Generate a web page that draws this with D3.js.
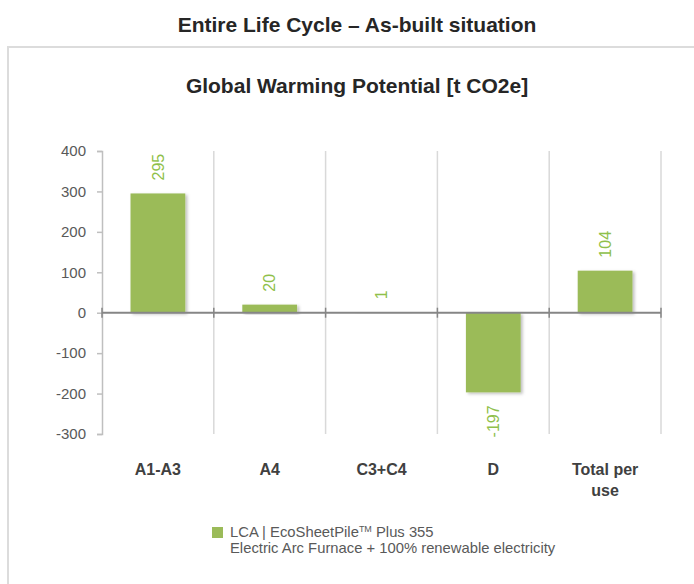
<!DOCTYPE html>
<html>
<head>
<meta charset="utf-8">
<script src="https://cdn.jsdelivr.net/npm/d3@7"></script>
<style>
  body { margin: 0; background: #fff; }
  svg { display: block; font-family: "Liberation Sans", Arial, sans-serif; }
</style>
</head>
<body>
<div class="barchart"></div>
<script>
// data
var categories = ["A1-A3", "A4", "C3+C4", "D", "Total per use"];
var values = [295, 20, 1, -197, 104];
var yTicks = [-300, -200, -100, 0, 100, 200, 300, 400];
var mainTitle = "Entire Life Cycle \u2013 As-built situation";
var chartTitle = "Global Warming Potential [t CO2e]";
var legendLine1 = "LCA | EcoSheetPile";
var legendLine1b = " Plus 355";
var legendLine2 = "Electric Arc Furnace + 100% renewable electricity";

var W = 694, H = 584;
var green = "#9bbb59";
var labelGreen = "#8fc04a";

var svg = d3.select(".barchart")
            .append("svg")
            .attr("width", W)
            .attr("height", H);

// soft shadow for bars
var defs = svg.append("defs");
defs.append("filter")
    .attr("id", "shadow")
    .attr("x", "-20%").attr("y", "-20%")
    .attr("width", "140%").attr("height", "140%")
    .append("feDropShadow")
    .attr("dx", 2).attr("dy", 1.5)
    .attr("stdDeviation", 1.5)
    .attr("flood-color", "#000")
    .attr("flood-opacity", 0.25);

svg.append("text")
   .attr("x", 357).attr("y", 32)
   .attr("text-anchor", "middle")
   .attr("font-size", 21).attr("font-weight", "bold")
   .attr("fill", "#262626")
   .text(mainTitle);

// chart box
svg.append("rect")
   .attr("x", 8).attr("y", 47)
   .attr("width", 720).attr("height", 600)
   .attr("fill", "#fff")
   .attr("stroke", "#dcdcdc")
   .attr("stroke-width", 2);

svg.append("text")
   .attr("x", 357).attr("y", 93)
   .attr("text-anchor", "middle")
   .attr("font-size", 21).attr("font-weight", "bold")
   .attr("fill", "#262626")
   .text(chartTitle);

var xScale = d3.scaleBand()
               .domain(categories)
               .range([102, 661])
               .paddingInner(0).paddingOuter(0);

var yScale = d3.scaleLinear()
               .domain([-300, 400])
               .range([434, 151]);

// vertical gridlines at category boundaries
var bounds = categories.map(function(c) { return xScale(c) + xScale.bandwidth(); });
svg.selectAll(".vgrid")
   .data(bounds)
   .enter().append("line")
   .attr("class", "vgrid")
   .attr("x1", d => d).attr("x2", d => d)
   .attr("y1", yScale(400)).attr("y2", yScale(-300))
   .attr("stroke", "#d9d9d9")
   .attr("stroke-width", 1.5);

// y axis
var yAxis = d3.axisLeft(yScale).tickValues(yTicks).tickSize(5).tickPadding(11)
              .tickFormat(d => String(d)); // plain hyphen like the original
svg.append("g")
   .attr("class", "y axis")
   .attr("transform", "translate(102,0)")
   .call(yAxis)
   .call(g => {
     g.select(".domain").attr("stroke", "#bfbfbf").attr("stroke-width", 1.5);
     g.selectAll("line").attr("stroke", "#bfbfbf").attr("stroke-width", 1.5);
     g.selectAll("text")
      .attr("font-size", 15)
      .attr("font-family", "Liberation Sans, Arial, sans-serif")
      .attr("fill", "#595959");
   });

// bars
var barW = xScale.bandwidth() * 0.49;
svg.selectAll(".bar")
   .data(values)
   .enter().append("rect")
   .attr("class", "bar")
   .attr("x", (d, i) => xScale(categories[i]) + (xScale.bandwidth() - barW) / 2)
   .attr("y", d => yScale(Math.max(d, 0)))
   .attr("width", barW)
   .attr("height", d => Math.max(Math.abs(yScale(d) - yScale(0)), 0.6))
   .attr("fill", green)
   .attr("filter", "url(#shadow)");

// zero line with ticks at category boundaries
svg.append("line")
   .attr("x1", 102).attr("x2", 661)
   .attr("y1", yScale(0)).attr("y2", yScale(0))
   .attr("stroke", "#868686").attr("stroke-width", 2);
svg.selectAll(".xtick")
   .data([102].concat(bounds))
   .enter().append("line")
   .attr("class", "xtick")
   .attr("x1", d => d).attr("x2", d => d)
   .attr("y1", yScale(0) - 5).attr("y2", yScale(0) + 5)
   .attr("stroke", "#868686").attr("stroke-width", 1.5);

// value labels, rotated
svg.selectAll(".vlabel")
   .data(values)
   .enter().append("text")
   .attr("class", "vlabel")
   .attr("transform", function(d, i) {
     var cx = xScale(categories[i]) + xScale.bandwidth() / 2;
     var cy = d >= 0 ? yScale(d) - 13 : yScale(d) + 13;
     return "translate(" + cx + "," + cy + ") rotate(-90)";
   })
   .attr("text-anchor", d => d >= 0 ? "start" : "end")
   .attr("dy", "0.35em")
   .attr("font-size", 16)
   .attr("fill", labelGreen)
   .text(d => d);

// category labels
var catLabels = svg.selectAll(".clabel")
   .data(categories)
   .enter().append("text")
   .attr("class", "clabel")
   .attr("text-anchor", "middle")
   .attr("font-size", 16).attr("font-weight", "bold")
   .attr("fill", "#404040");
catLabels.each(function(d) {
  var t = d3.select(this);
  var cx = xScale(d) + xScale.bandwidth() / 2;
  var lines = d === "Total per use" ? ["Total per", "use"] : [d];
  lines.forEach(function(l, k) {
    t.append("tspan").attr("x", cx).attr("y", 475 + k * 21).text(l);
  });
});

// legend
svg.append("rect")
   .attr("x", 212).attr("y", 527)
   .attr("width", 11).attr("height", 11)
   .attr("fill", green);
var lg = svg.append("text")
   .attr("x", 230).attr("y", 537)
   .attr("font-size", 14.8)
   .attr("fill", "#595959");
lg.append("tspan").text(legendLine1);
lg.append("tspan").attr("font-size", 9).attr("dy", -5).text("TM");
lg.append("tspan").attr("dy", 5).text(legendLine1b);
svg.append("text")
   .attr("x", 230).attr("y", 553)
   .attr("font-size", 14.8)
   .attr("fill", "#595959")
   .text(legendLine2);
</script>
</body>
</html>
